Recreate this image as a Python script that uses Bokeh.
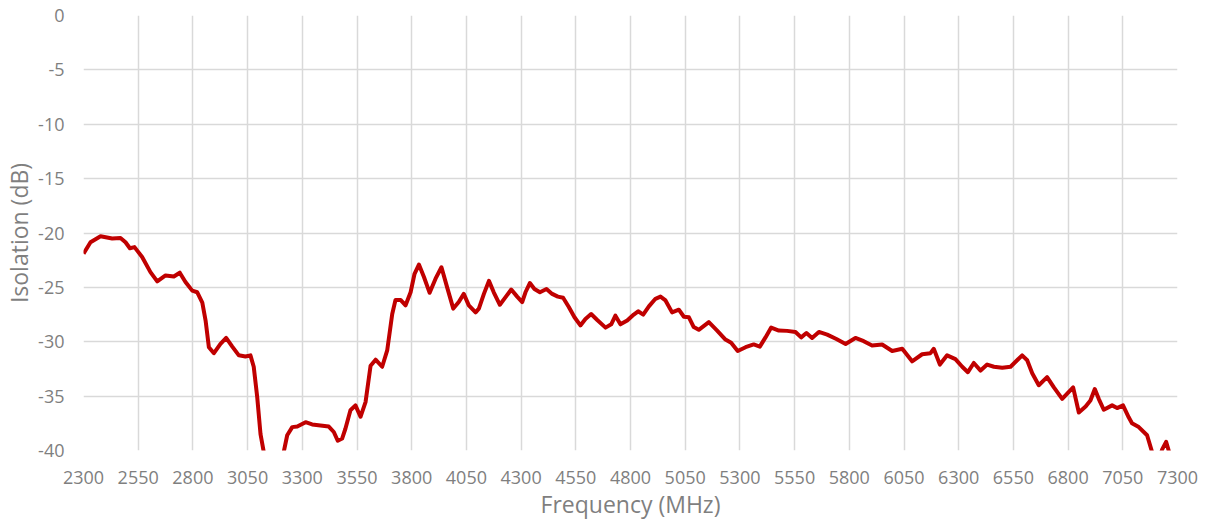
from bokeh.plotting import figure
from bokeh.models import FixedTicker, Range1d, PrintfTickFormatter
from bokeh.embed import file_html
from bokeh.resources import INLINE

freq_mhz = [2300, 2332, 2378, 2431, 2469, 2492, 2512, 2533, 2568, 2606, 2637, 2675, 2713, 2740,
            2766, 2797, 2820, 2843, 2858, 2873, 2896, 2926, 2952, 2980, 3010, 3040, 3063, 3078,
            3094, 3109, 3124, 3145, 3170, 3195, 3215, 3231, 3254, 3277, 3315, 3345, 3383, 3421,
            3444, 3462, 3482, 3497, 3520, 3543, 3566, 3589, 3612, 3635, 3665, 3688, 3711, 3726,
            3749, 3772, 3795, 3813, 3833, 3856, 3882, 3909, 3936, 3962, 3990, 4015, 4038, 4061,
            4092, 4107, 4130, 4153, 4175, 4203, 4229, 4255, 4282, 4305, 4320, 4340, 4361, 4386,
            4416, 4442, 4468, 4492, 4518, 4544, 4571, 4594, 4620, 4648, 4686, 4712, 4731, 4754,
            4785, 4815, 4835, 4858, 4884, 4914, 4937, 4960, 4990, 5021, 5044, 5067, 5089, 5112,
            5158, 5196, 5234, 5260, 5290, 5326, 5363, 5391, 5417, 5443, 5478, 5516, 5554, 5580,
            5604, 5630, 5661, 5699, 5741, 5783, 5828, 5866, 5904, 5950, 5996, 6042, 6087, 6133,
            6171, 6186, 6214, 6247, 6285, 6316, 6342, 6369, 6400, 6430, 6461, 6499, 6537, 6567,
            6590, 6613, 6636, 6666, 6704, 6735, 6773, 6823, 6849, 6880, 6902, 6922, 6940, 6963,
            7001, 7024, 7051, 7077, 7092, 7123, 7161, 7184, 7200, 7215, 7230, 7248, 7264, 7272]

isolation_db = [-21.9, -20.85, -20.3, -20.5, -20.45, -20.85, -21.4, -21.3, -22.2, -23.6, -24.45,
                -23.9, -24.0, -23.65, -24.5, -25.3, -25.45, -26.4, -28.05, -30.5, -31.05, -30.2,
                -29.65, -30.45, -31.25, -31.35, -31.25, -32.3, -35.1, -38.5, -40.15, -42.5, -44.0,
                -42.3, -40.15, -38.6, -37.85, -37.8, -37.4, -37.6, -37.7, -37.8, -38.3, -39.1,
                -38.9, -38.0, -36.3, -35.85, -36.9, -35.55, -32.2, -31.65, -32.3, -30.8, -27.45,
                -26.15, -26.15, -26.65, -25.45, -23.75, -22.9, -24.05, -25.5, -24.2, -23.15, -25.0,
                -26.95, -26.35, -25.6, -26.65, -27.3, -26.95, -25.6, -24.4, -25.45, -26.6, -25.9,
                -25.2, -25.85, -26.35, -25.45, -24.6, -25.15, -25.45, -25.15, -25.6, -25.85, -25.95,
                -26.8, -27.75, -28.5, -27.9, -27.45, -28.0, -28.7, -28.4, -27.6, -28.4, -28.05,
                -27.5, -27.2, -27.5, -26.75, -26.05, -25.85, -26.2, -27.3, -27.05, -27.7, -27.75,
                -28.65, -28.9, -28.2, -28.97, -29.8, -30.1, -30.85, -30.5, -30.25, -30.45, -29.6,
                -28.7, -28.97, -29.0, -29.1, -29.6, -29.2, -29.65, -29.1, -29.35, -29.75, -30.2,
                -29.65, -29.95, -30.35, -30.25, -30.85, -30.65, -31.8, -31.15, -31.05, -30.65,
                -32.1, -31.25, -31.6, -32.3, -32.8, -31.95, -32.65, -32.1, -32.3, -32.4, -32.3,
                -31.7, -31.25, -31.7, -32.9, -34.0, -33.25, -34.2, -35.25, -34.2, -36.5, -35.95,
                -35.4, -34.35, -35.25, -36.25, -35.85, -36.1, -35.85, -36.95, -37.5, -37.85, -38.6,
                -40.15, -41.3, -40.8, -39.9, -39.2, -40.3, -41.0]

x_ticks = [2300, 2550, 2800, 3050, 3300, 3550, 3800, 4050, 4300, 4550, 4800, 5050, 5300,
           5550, 5800, 6050, 6300, 6550, 6800, 7050, 7300]
y_ticks = [0, -5, -10, -15, -20, -25, -30, -35, -40]

FONT = "Open Sans"
GRAY = "#7f7f7f"

p = figure(width=1200, height=522, output_backend="svg", toolbar_location=None,
           x_range=Range1d(2300, 7300), y_range=Range1d(-40, 0),
           min_border_left=83, min_border_right=23, min_border_top=15, min_border_bottom=72)

p.line(freq_mhz, isolation_db, line_color="#c00000", line_width=4, line_join="round")

p.outline_line_color = None
p.background_fill_color = "white"
p.border_fill_color = "white"

for ax in (p.xaxis[0], p.yaxis[0]):
    ax.axis_line_color = None
    ax.major_tick_line_color = None
    ax.minor_tick_line_color = None
    ax.major_label_text_font = FONT
    ax.major_label_text_font_size = "18px"
    ax.major_label_text_color = GRAY
    ax.axis_label_text_font = FONT
    ax.axis_label_text_font_size = "23px"
    ax.axis_label_text_color = GRAY
    ax.axis_label_text_font_style = "normal"

p.xaxis.ticker = FixedTicker(ticks=x_ticks)
p.yaxis.ticker = FixedTicker(ticks=y_ticks)
p.yaxis.formatter = PrintfTickFormatter(format="%d")
p.xaxis.formatter = PrintfTickFormatter(format="%d")
p.xaxis.axis_label = "Frequency (MHz)"
p.yaxis.axis_label = "Isolation (dB)"
p.xaxis.major_label_standoff = 14
p.yaxis.major_label_standoff = 13
p.xaxis.axis_label_standoff = 1
p.yaxis.axis_label_standoff = 0

p.xgrid.grid_line_color = "#d9d9d9"
p.ygrid.grid_line_color = "#d9d9d9"
p.xgrid.grid_line_width = 1.5
p.ygrid.grid_line_width = 1.5

open("out.html", "w").write(file_html(p, INLINE))
